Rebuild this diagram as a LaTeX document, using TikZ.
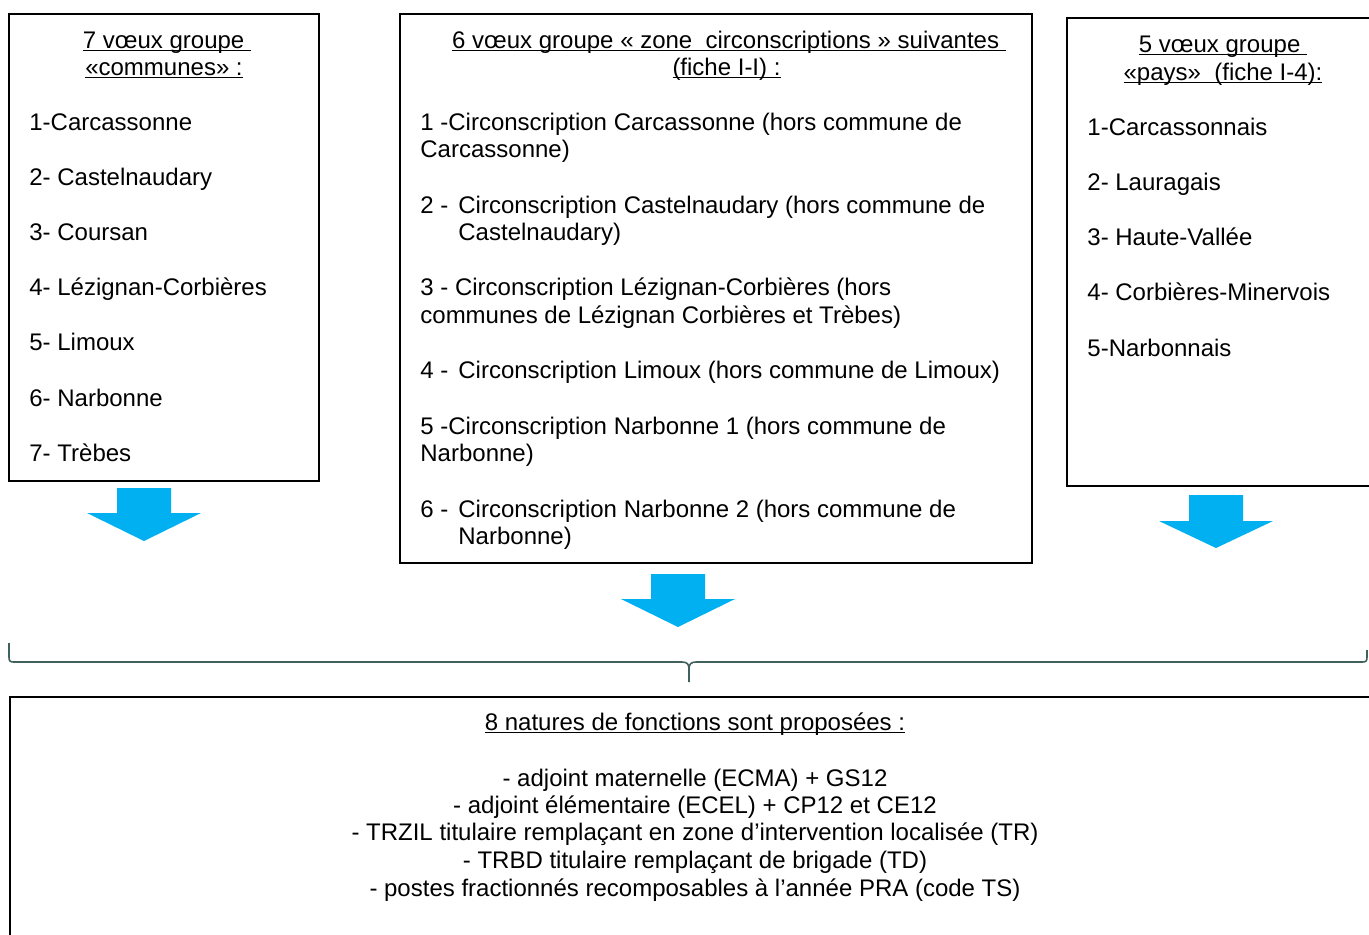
\documentclass[tikz,border=0pt]{standalone}
\usepackage{fontspec}
\setmainfont{Liberation Sans}
\newcommand\myul[1]{\setbox0\hbox{#1}\rlap{\rule[-1.7pt]{\wd0}{0.8pt}}\box0}
\newcommand\numlbl[1]{\makebox[19pt][l]{#1}}
\definecolor{arrowblue}{RGB}{0,176,240}
\definecolor{bracegray}{RGB}{64,96,92}
\begin{document}
\begin{tikzpicture}[x=0.5pt,y=-0.5pt,
  txt/.style={inner sep=0pt,anchor=base west,font=\fontsize{12}{14}\selectfont},
  ctxt/.style={inner sep=0pt,anchor=base,font=\fontsize{12}{14}\selectfont},
  boxline/.style={draw=black,line width=1pt},
  blockarrow/.style={fill=arrowblue,draw=none},
  bracestyle/.style={draw=bracegray,line width=0.8pt}]
\useasboundingbox (0,0) rectangle (1369,934);
\clip (0,0) rectangle (1369,934);
% boxes
\draw[boxline] (9,14) rectangle (319,481);
\draw[boxline] (400,14) rectangle (1032,563);
\draw[boxline] (1067,18) rectangle (1390,486);
\draw[boxline] (10,697) rectangle (1390,960);
% left box
\node[ctxt] (t1a) at (167,48) {\myul{7 vœux groupe\ }};
\node[ctxt] (t1b) at (164,75) {\myul{«communes» :}};
\node[txt] (l1) at (29,130) {1-Carcassonne};
\node[txt] (l2) at (29,185) {2- Castelnaudary};
\node[txt] (l3) at (29,240) {3- Coursan};
\node[txt] (l4) at (29,295) {4- Lézignan-Corbières};
\node[txt] (l5) at (29,350) {5- Limoux};
\node[txt] (l6) at (29,406) {6- Narbonne};
\node[txt] (l7) at (29,461) {7- Trèbes};
% middle box
\node[ctxt] (t2a) at (729,48) {\myul{6 vœux groupe « zone\ \ circonscriptions » suivantes\ }};
\node[ctxt] (t2b) at (726.5,75) {\myul{(fiche I-I) :}};
\node[txt] (m1a) at (420,130) {1 -Circonscription Carcassonne (hors commune de};
\node[txt] (m1b) at (420,157) {Carcassonne)};
\node[txt] (m2a) at (420,213) {\numlbl{2 -}Circonscription Castelnaudary (hors commune de};
\node[txt] (m2b) at (458,240) {Castelnaudary)};
\node[txt] (m3a) at (420,295) {3 - Circonscription Lézignan-Corbières (hors};
\node[txt] (m3b) at (420,323) {communes de Lézignan Corbières et Trèbes)};
\node[txt] (m4a) at (420,378) {\numlbl{4 -}Circonscription Limoux (hors commune de Limoux)};
\node[txt] (m5a) at (420,434) {5 -Circonscription Narbonne 1 (hors commune de};
\node[txt] (m5b) at (420,461) {Narbonne)};
\node[txt] (m6a) at (420,517) {\numlbl{6 -}Circonscription Narbonne 2 (hors commune de};
\node[txt] (m6b) at (458,544) {Narbonne)};
% right box
\node[ctxt] (t3a) at (1223,52) {\myul{5 vœux groupe\ }};
\node[ctxt] (t3b) at (1223,80) {\myul{«pays»\ \ (fiche I-4):}};
\node[txt] (r1) at (1087,135) {1-Carcassonnais};
\node[txt] (r2) at (1087,190) {2- Lauragais};
\node[txt] (r3) at (1087,245) {3- Haute-Vallée};
\node[txt] (r4) at (1087,300) {4- Corbières-Minervois};
\node[txt] (r5) at (1087,356) {5-Narbonnais};
% bottom box
\node[ctxt] (b0) at (695,730) {\myul{8 natures de fonctions sont proposées :}};
\node[ctxt] (b1) at (695,786) {- adjoint maternelle (ECMA) + GS12};
\node[ctxt] (b2) at (695,813) {- adjoint élémentaire (ECEL) + CP12 et CE12};
\node[ctxt] (b3) at (695,840) {- TRZIL titulaire remplaçant en zone d’intervention localisée (TR)};
\node[ctxt] (b4) at (695,868) {- TRBD titulaire remplaçant de brigade (TD)};
\node[ctxt] (b5) at (695,896) {- postes fractionnés recomposables à l’année PRA (code TS)};
% block arrows
\fill[blockarrow] (117,488) -- (171,488) -- (171,513) -- (201,513) -- (144,541) -- (87,513) -- (117,513) -- cycle;
\fill[blockarrow] (651,574) -- (705,574) -- (705,599) -- (735,599) -- (678,627) -- (621,599) -- (651,599) -- cycle;
\fill[blockarrow] (1189,495) -- (1243,495) -- (1243,521) -- (1273,521) -- (1216,548) -- (1159,521) -- (1189,521) -- cycle;
% brace
\draw[bracestyle] (9,643) -- (9,657) .. controls (9,661) and (10,662) .. (14,662)
  -- (682,662) .. controls (687,662) and (689,664) .. (689,669) -- (689,682);
\draw[bracestyle] (689,669) .. controls (689,664) and (691,662) .. (696,662)
  -- (1362,662) .. controls (1366,662) and (1367,661) .. (1367,657) -- (1367,650);
\end{tikzpicture}
\end{document}
